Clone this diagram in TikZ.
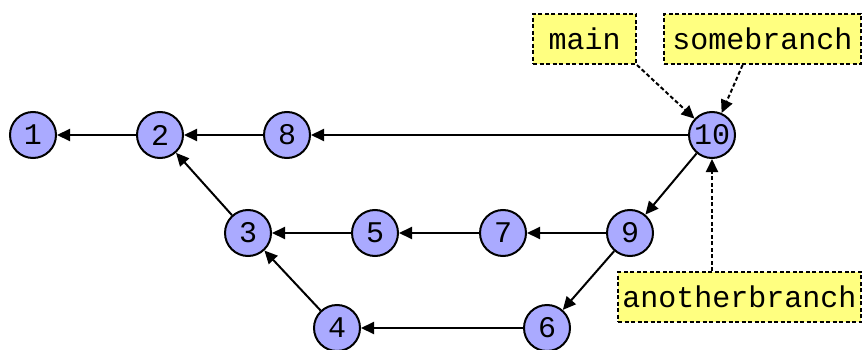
\documentclass[tikz,border=0pt]{standalone}
\usepackage{fontspec}
\setmonofont{Liberation Mono}
\usetikzlibrary{arrows.meta,calc}
\definecolor{commitfill}{HTML}{AAAAFF}
\definecolor{reffill}{HTML}{FFFF80}
\begin{document}
\begin{tikzpicture}[x=1pt,y=-1pt,
  commit/.style={circle,draw=black,line width=2pt,fill=commitfill,minimum size=46pt,inner sep=0pt,font=\ttfamily\fontsize{30}{30}\selectfont},
  refbox/.style={draw=black,line width=2pt,dash pattern=on 4pt off 2.5pt,fill=reffill,minimum height=50pt,inner sep=0pt,font=\ttfamily\fontsize{30}{30}\selectfont},
  edge/.style={line width=2pt,-{Triangle[length=13pt,width=12pt]}},
  refedge/.style={edge,dash pattern=on 4pt off 2.5pt}]
\useasboundingbox (0,0) rectangle (864,350);
\node[commit] (n1) at (33,135) {1};
\node[commit] (n2) at (160,135) {2};
\node[commit] (n8) at (287,135) {8};
\node[commit] (n10) at (712,135) {10};
\node[commit] (n3) at (248,233) {3};
\node[commit] (n5) at (375,233) {5};
\node[commit] (n7) at (503,233) {7};
\node[commit] (n9) at (630,233) {9};
\node[commit] (n4) at (337,328) {4};
\node[commit] (n6) at (547,328) {6};
\node[refbox,minimum width=103pt] (main) at (584.5,39) {main};
\node[refbox,minimum width=197pt] (sb) at (762.5,39) {somebranch};
\node[refbox,minimum width=243pt] (ab) at (739.5,297) {anotherbranch};
\draw[edge] (n10) -- (n8);
\draw[edge] (n8) -- (n2);
\draw[edge] (n2) -- (n1);
\draw[edge] (n10) -- (n9);
\draw[edge] (n9) -- (n7);
\draw[edge] (n7) -- (n5);
\draw[edge] (n5) -- (n3);
\draw[edge] (n3) -- (n2);
\draw[edge] (n9) -- (n6);
\draw[edge] (n6) -- (n4);
\draw[edge] (n4) -- (n3);
\draw[refedge] (main.south east) -- (n10);
\draw[refedge] ($(sb.south west)!0.4!(sb.south east)$) -- (n10);
\draw[refedge] (ab.north -| n10.south) -- (n10.south);
\end{tikzpicture}
\end{document}
